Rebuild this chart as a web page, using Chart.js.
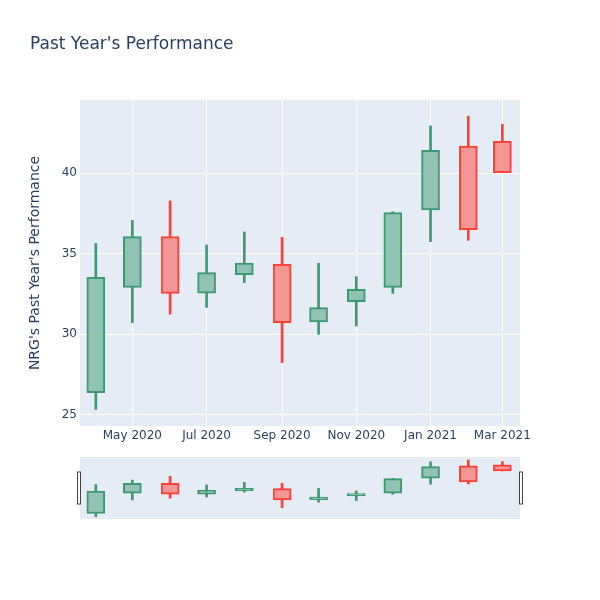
<!DOCTYPE html>
<html>
<head>
<meta charset="utf-8">
<script src="https://cdn.jsdelivr.net/npm/chart.js@4/dist/chart.umd.min.js"></script>
<style>
body { margin: 0; background: #fff; }
#wrap { position: relative; width: 600px; height: 600px; }
#main { position: absolute; left: 0; top: 0; }
#slider { position: absolute; left: 0; top: 440px; }
</style>
</head>
<body>
<div id="wrap">
  <canvas id="main" width="600" height="600"></canvas>
  <canvas id="slider" width="600" height="100"></canvas>
</div>
<script>
// monthly candles
var dates = ['2020-04-01', '2020-05-01', '2020-06-01', '2020-07-01', '2020-08-01', '2020-09-01',
             '2020-10-01', '2020-11-01', '2020-12-01', '2021-01-01', '2021-02-01', '2021-03-01'];
var openPrices  = [26.35, 32.90, 36.06, 32.55, 33.69, 34.34, 30.75, 32.01, 32.90, 37.72, 41.70, 41.99];
var highPrices  = [35.64, 37.07, 38.28, 35.54, 36.35, 36.02, 34.40, 33.57, 37.61, 42.95, 43.55, 43.05];
var lowPrices   = [25.31, 30.71, 31.24, 31.66, 33.20, 28.22, 29.98, 30.50, 32.53, 35.75, 35.83, 40.04];
var closePrices = [33.53, 36.06, 32.53, 33.82, 34.42, 30.71, 31.64, 32.78, 37.55, 41.43, 36.49, 40.04];
var tickDates = ['2020-05-01', '2020-07-01', '2020-09-01', '2020-11-01', '2021-01-01', '2021-03-01'];
var monthNames = ['Jan', 'Feb', 'Mar', 'Apr', 'May', 'Jun', 'Jul', 'Aug', 'Sep', 'Oct', 'Nov', 'Dec'];
var xStart = '2020-03-19';
var xEnd = '2021-03-15';

var upLine = '#3D9970', upFill = '#91c2b3';
var downLine = '#FF4136', downFill = '#f29696';
var ink = '#2a3f5f';

function day(s) {
  var p = s.split('-');
  return Date.UTC(+p[0], +p[1] - 1, +p[2]) / 864e5;
}

var isUp = dates.map(function (d, i) { return closePrices[i] >= openPrices[i]; });
var bodies = dates.map(function (d, i) { return { x: day(d), y: [openPrices[i], closePrices[i]] }; });
var wicks = dates.map(function (d, i) { return { x: day(d), y: [lowPrices[i], highPrices[i]] }; });
var lineColors = isUp.map(function (u) { return u ? upLine : downLine; });
var fillColors = isUp.map(function (u) { return u ? upFill : downFill; });

Chart.defaults.font.family = "'DejaVu Sans', sans-serif";
Chart.defaults.color = ink;

var plotBg = {
  id: 'plotBg',
  beforeDraw: function (chart) {
    var a = chart.chartArea, c = chart.ctx;
    c.save();
    c.fillStyle = '#e5ecf6';
    c.fillRect(a.left, a.top, a.right - a.left, a.bottom - a.top);
    c.restore();
  }
};

function makeDatasets(bodyBorder, wickWidth) {
  return [{
    data: bodies,
    backgroundColor: fillColors,
    borderColor: lineColors,
    borderWidth: bodyBorder,
    borderSkipped: false,
    barThickness: 18,
    grouped: false,
    order: 0
  }, {
    data: wicks,
    backgroundColor: lineColors,
    borderWidth: 0,
    barThickness: wickWidth,
    grouped: false,
    order: 1
  }];
}

new Chart(document.getElementById('main').getContext('2d'), {
  type: 'bar',
  data: { datasets: makeDatasets(2, 2) },
  options: {
    responsive: false,
    animation: false,
    layout: { padding: { left: 30, right: 80, top: 0, bottom: 144 } },
    plugins: {
      legend: { display: false },
      tooltip: { enabled: false },
      title: {
        display: true,
        text: "Past Year's Performance",
        align: 'start',
        color: ink,
        font: { size: 17, weight: 'normal' },
        padding: { top: 34, bottom: 45.6 }
      }
    },
    scales: {
      x: {
        type: 'linear',
        offset: false,
        min: day(xStart),
        max: day(xEnd) + 0.5,
        afterBuildTicks: function (scale) {
          scale.ticks = tickDates.map(function (d) { return { value: day(d) }; });
        },
        afterFit: function (scale) { scale.height = 30; },
        ticks: {
          autoSkip: false,
          maxRotation: 0,
          padding: 3,
          font: { size: 12 },
          callback: function (v) {
            var d = new Date(v * 864e5);
            return monthNames[d.getUTCMonth()] + ' ' + d.getUTCFullYear();
          }
        },
        grid: { color: '#ffffff', lineWidth: 1, drawTicks: false, offset: false },
        border: { display: false }
      },
      y: {
        min: 24.28,
        max: 44.56,
        afterBuildTicks: function (scale) {
          scale.ticks = [25, 30, 35, 40].map(function (v) { return { value: v }; });
        },
        afterFit: function (scale) { scale.width = 50; },
        ticks: { padding: 3, font: { size: 12 } },
        grid: { color: '#ffffff', lineWidth: 1, drawTicks: false },
        border: { display: false },
        title: {
          display: true,
          text: "NRG's Past Year's Performance",
          color: ink,
          font: { size: 14, lineHeight: 0.75 },
          padding: 0
        }
      }
    }
  },
  plugins: [plotBg]
});

var handles = {
  id: 'handles',
  afterDraw: function (chart) {
    var a = chart.chartArea, c = chart.ctx;
    var mid = (a.top + a.bottom) / 2;
    c.save();
    c.fillStyle = '#ffffff';
    c.strokeStyle = '#444444';
    c.lineWidth = 1;
    [a.left - 2.5, a.right - 0.5].forEach(function (x) {
      c.fillRect(x, mid - 16, 3, 32);
      c.strokeRect(x, mid - 16, 3, 32);
    });
    c.restore();
  }
};

new Chart(document.getElementById('slider').getContext('2d'), {
  type: 'bar',
  data: { datasets: makeDatasets(2, 2) },
  options: {
    responsive: false,
    animation: false,
    layout: { padding: { left: 80, right: 80, top: 17, bottom: 21 } },
    plugins: { legend: { display: false }, tooltip: { enabled: false } },
    scales: {
      x: { type: 'linear', display: false, offset: false, min: day(xStart), max: day(xEnd) + 0.5 },
      y: { display: false, min: 24.57, max: 44.5 }
    }
  },
  plugins: [plotBg, handles]
});
</script>
</body>
</html>
